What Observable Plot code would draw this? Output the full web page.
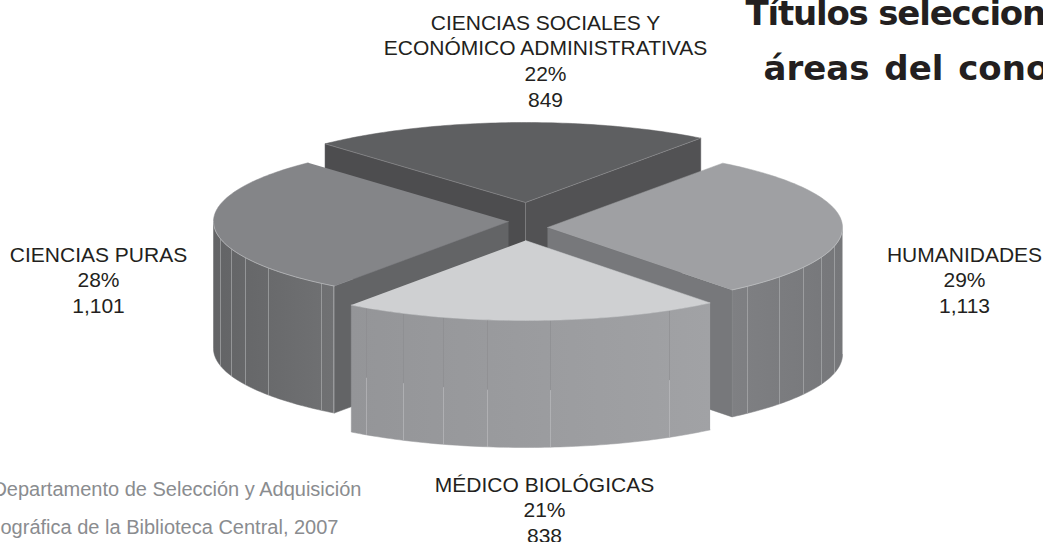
<!DOCTYPE html>
<html lang="es">
<head>
<meta charset="utf-8">
<script src="https://cdn.jsdelivr.net/npm/d3@7"></script>
<script src="https://cdn.jsdelivr.net/npm/@observablehq/plot@0.6"></script>
<style>
html,body{margin:0;padding:0;background:#fff;overflow:hidden}
svg{display:block}
.title1 text{letter-spacing:-1.2px}
.title2 text{word-spacing:3px}
</style>
</head>
<body>
<div id="chart"></div>
<script>
// ----- data -----
const categories = ["CIENCIAS SOCIALES Y\nECONÓMICO ADMINISTRATIVAS", "HUMANIDADES", "MÉDICO BIOLÓGICAS", "CIENCIAS PURAS"];
const titulos = [849, 1113, 838, 1101];
const percents = ["22%", "29%", "21%", "28%"];
const titleLines = ["Títulos seleccion", "áreas del cono"];
const sourceLines = ["Departamento de Selección y Adquisición", "ográfica de la Biblioteca Central, 2007"];

// ----- layout and style -----
const W = 1043, H = 542;
const RX = 295, RY = 80, DEPTH = 127;
const START = -42.2;
const rimShift = [-0.6, 0.3, 2.4, 0, -0.6];           // small skew of the drawn perspective
const centers = [[525, 202], [547, 227], [525, 240], [508, 221]];
const sliceTop = {0: "#5e5f61", 1: "#9fa0a3", 2: "#cfd0d2", 3: "#848588"};
const wallFill = {1: "#77787b", 3: "#636466"};
const seamX = {1: [747, 779, 803, 821, 834], 2: [366, 403, 443, 487, 550, 669], 3: [220, 231, 245, 268, 321, 333]};
const labelPos = [[545, 59.5], [964, 278.5], [544, 508.5], [98, 278.5]];
const gradients = {
  rimLeft: ["#636466", "#707173"],
  rimRight: ["#7f8083", "#76777a"],
  rimFront: ["#949598", "#a1a2a5"]
};

// ----- geometry derived from the values -----
const rad = d => d * Math.PI / 180;
const arcs = d3.pie().sort(null).startAngle(rad(START)).endAngle(rad(START + 360))(titulos);
const bounds = arcs.map((a, i) => [a.startAngle * 180 / Math.PI + rimShift[i], a.endAngle * 180 / Math.PI + rimShift[i + 1]]);
const pt = (i, deg, dz = 0) => ({x: centers[i][0] + RX * Math.sin(rad(deg)), y: centers[i][1] - RY * Math.cos(rad(deg)) + dz});
const apex = (i, dz = 0) => ({x: centers[i][0], y: centers[i][1] + dz});
const arcPts = (i, a, b, dz = 0) => d3.range(a, b, 1).concat(b).map(d => pt(i, d, dz));
const wedge = i => [apex(i), ...arcPts(i, bounds[i][0], bounds[i][1])];
const wall = (i, deg) => [apex(i), pt(i, deg), pt(i, deg, DEPTH), apex(i, DEPTH)];
const rim = i => {
  const a = Math.max(bounds[i][0], 90), b = Math.min(bounds[i][1], 270);
  return [...arcPts(i, a, b), ...arcPts(i, a, b, DEPTH).reverse()];
};
const poly = (pts, fill) => Plot.line(pts, {x: "x", y: "y", fill, stroke: fill, strokeWidth: 0.5, curve: "linear"});
const edge = (pts, stroke, w = 0.7) => Plot.line(pts, {x: "x", y: "y", stroke, strokeWidth: w, curve: "linear"});
const seamSegs = i => seamX[i].map(x => {
  const dx = (x - centers[i][0]) / RX, dy = RY * Math.sqrt(1 - dx * dx);
  return {x, y1: centers[i][1] + dy, y2: centers[i][1] + dy + DEPTH};
});
const seamMark = (i, stroke, f1 = 0, f2 = 1, w = 0.6) => Plot.link(seamSegs(i), {
  x1: "x", x2: "x",
  y1: d => d.y1 + (d.y2 - d.y1) * f1, y2: d => d.y1 + (d.y2 - d.y1) * f2,
  stroke, strokeWidth: w
});
const defsMark = () => {
  const defs = d3.create("svg:defs");
  for (const [id, [a, b]] of Object.entries(gradients)) {
    const g = defs.append("linearGradient").attr("id", id);
    g.append("stop").attr("offset", "0%").attr("stop-color", a);
    g.append("stop").attr("offset", "100%").attr("stop-color", b);
  }
  return defs.node();
};

const sliceMarks = [
  // back slice
  poly(wall(0, bounds[0][0]), "#4d4d4f"),
  poly(wall(0, bounds[0][1]), "#525254"),
  poly(wedge(0), sliceTop[0]),
  edge([pt(0, bounds[0][0]), apex(0), pt(0, bounds[0][1])], "#a9aaac", 0.4),
  // left slice
  poly(wall(3, bounds[3][0]), wallFill[3]),
  poly(rim(3), "url(#rimLeft)"),
  seamMark(3, "#b4b5b7"),
  poly(wedge(3), sliceTop[3]),
  edge(arcPts(3, bounds[3][0], 270), "#c8c9cb", 0.6),
  // right slice
  poly(wall(1, bounds[1][1]), wallFill[1]),
  poly(rim(1), "url(#rimRight)"),
  seamMark(1, "#b4b5b7"),
  poly(wedge(1), sliceTop[1]),
  edge(arcPts(1, 90, bounds[1][1]), "#c8c9cb", 0.6),
  // front slice
  poly(rim(2), "url(#rimFront)"),
  seamMark(2, "#8b8c8f", 0, 0.55),
  seamMark(2, "#bfc0c2", 0.55, 1),
  poly(wedge(2), sliceTop[2])
];

const labels = categories.map((c, i) => ({
  text: `${c}\n${percents[i]}\n${d3.format(",")(titulos[i])}`,
  x: labelPos[i][0], y: labelPos[i][1]
}));

const chart = Plot.plot({
  width: W, height: H, margin: 0,
  style: {background: "#fff", overflow: "hidden"},
  x: {domain: [0, W], range: [0, W], axis: null},
  y: {domain: [0, H], range: [0, H], axis: null},
  marks: [
    defsMark,
    ...sliceMarks,
    Plot.text(labels, {
      x: "x", y: "y", text: "text", lineHeight: 1.22, fontSize: 21,
      fontFamily: "Liberation Sans", fill: "#231f20", textAnchor: "middle", lineAnchor: "middle"
    }),
    Plot.text([titleLines[0]], {
      x: 745, y: 14, text: d => d, fontSize: 34, fontWeight: 700, className: "title1",
      fontFamily: "DejaVu Sans", fill: "#231f20", textAnchor: "start", lineAnchor: "middle"
    }),
    Plot.text([titleLines[1]], {
      x: 763, y: 69, text: d => d, fontSize: 34, fontWeight: 700, className: "title2",
      fontFamily: "DejaVu Sans", fill: "#231f20", textAnchor: "start", lineAnchor: "middle"
    }),
    Plot.text(sourceLines, {
      x: [361, 338], y: [489, 527], text: d => d, fontSize: 20,
      fontFamily: "Liberation Sans", fill: "#8a8c8f", textAnchor: "end", lineAnchor: "middle"
    })
  ]
});
document.getElementById("chart").append(chart);
</script>
</body>
</html>
